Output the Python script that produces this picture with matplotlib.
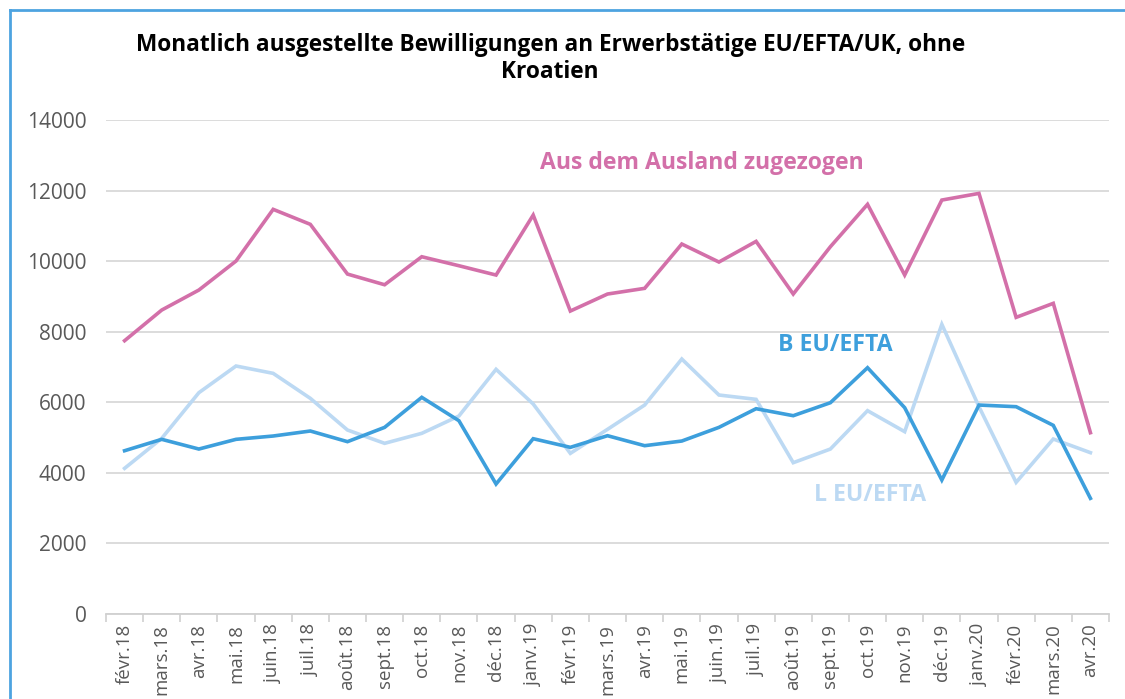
import matplotlib
matplotlib.use("Agg")
import matplotlib.pyplot as plt
from matplotlib.lines import Line2D

months = ["févr.18", "mars.18", "avr.18", "mai.18", "juin.18", "juil.18", "août.18",
          "sept.18", "oct.18", "nov.18", "déc.18", "janv.19", "févr.19", "mars.19",
          "avr.19", "mai.19", "juin.19", "juil.19", "août.19", "sept.19", "oct.19",
          "nov.19", "déc.19", "janv.20", "févr.20", "mars.20", "avr.20"]

ausland = [7745, 8614, 9181, 10003, 11468, 11043, 9634, 9331, 10125, 9870, 9606,
           11306, 8586, 9068, 9229, 10485, 9975, 10560, 9068, 10409, 11610, 9606,
           11731, 11920, 8407, 8804, 5138]
b_eu = [4627, 4950, 4675, 4950, 5044, 5186, 4884, 5289, 6140, 5478, 3684, 4968,
        4723, 5053, 4770, 4902, 5289, 5818, 5620, 5988, 6980, 5847, 3797, 5922,
        5875, 5346, 3278]
l_eu = [4128, 4978, 6272, 7028, 6820, 6112, 5214, 4837, 5120, 5611, 6934, 5951,
        4553, 5233, 5922, 7226, 6206, 6083, 4288, 4675, 5762, 5167, 8209, 5875,
        3731, 4959, 4572]

yticks = [0, 2000, 4000, 6000, 8000, 10000, 12000, 14000]

PINK = "#D370A9"
BLUE = "#3D9FDC"
LIGHT = "#BCD9F3"
FONT = ["Open Sans", "DejaVu Sans"]

plt.rcParams["font.family"] = FONT

fig = plt.figure(figsize=(11.25, 6.99), dpi=100)
ax = fig.add_axes([106/1125, 1-614/699, (1109-106)/1125, (614-120)/699])

x = list(range(len(months)))
ax.plot(x, l_eu, color=LIGHT, lw=2.6, solid_joinstyle="miter", zorder=3)
ax.plot(x, b_eu, color=BLUE, lw=2.6, solid_joinstyle="miter", zorder=4)
ax.plot(x, ausland, color=PINK, lw=2.6, solid_joinstyle="miter", zorder=5)

ax.set_xlim(-0.5, len(months) - 0.5)
ax.set_ylim(0, 14000)
ax.set_yticks(yticks)
ax.set_yticklabels([str(v) for v in yticks], fontsize=15, color="#595959")
ax.yaxis.grid(True, color="#D9D9D9", lw=1.3)
ax.set_axisbelow(True)
ax.tick_params(axis="y", length=0, pad=14)

ax.set_xticks(x)
ax.set_xticklabels(months, rotation=90, fontsize=13.5, color="#595959")
ax.set_xticks([i - 0.5 for i in range(len(months) + 1)], minor=True)
ax.tick_params(axis="x", which="major", length=0, pad=7)
ax.tick_params(axis="x", which="minor", length=6, color="#D0D0D0", width=1.2)

for s in ["top", "right", "left"]:
    ax.spines[s].set_visible(False)
ax.spines["bottom"].set_color("#D0D0D0")
ax.spines["bottom"].set_linewidth(1.3)

fig.text(0.489, 1-45/699, "Monatlich ausgestellte Bewilligungen an Erwerbstätige EU/EFTA/UK, ohne",
         ha="center", va="center", fontsize=16.3, fontweight="bold", color="#000000")
fig.text(0.489, 1-72/699, "Kroatien", ha="center", va="center",
         fontsize=16.3, fontweight="bold", color="#000000")

ax.text(11.17, 12780, "Aus dem Ausland zugezogen", color=PINK, fontsize=16.6,
        fontweight="bold", ha="left", va="center")
ax.text(17.6, 7623, "B EU/EFTA", color=BLUE, fontsize=16.6,
        fontweight="bold", ha="left", va="center")
ax.text(18.56, 3372, "L EU/EFTA", color=LIGHT, fontsize=16.6,
        fontweight="bold", ha="left", va="center")

# frame border (left and top)
fig.add_artist(Line2D([10/1125, 10/1125], [0, 1-10/699], transform=fig.transFigure,
                      color="#4DA3E0", lw=2))
fig.add_artist(Line2D([10/1125, 1], [1-10/699, 1-10/699], transform=fig.transFigure,
                      color="#4DA3E0", lw=2))

fig.savefig("out.png", dpi=100)
